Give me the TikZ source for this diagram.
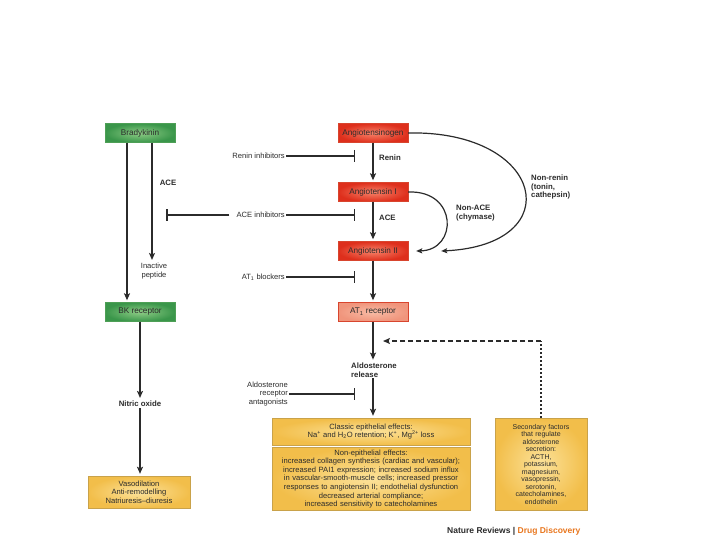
\documentclass[tikz,border=0pt]{standalone}
\usepackage{fontspec}
\setmainfont{Liberation Sans}
\usetikzlibrary{arrows.meta,positioning,calc}
\definecolor{gdark}{HTML}{3A964A}
\definecolor{glight}{HTML}{8ECC86}
\definecolor{gedge}{HTML}{4E9F56}
\definecolor{rdark}{HTML}{DE2F1C}
\definecolor{rlight}{HTML}{F7836A}
\definecolor{redge}{HTML}{D8452E}
\definecolor{salmon}{HTML}{F0957C}
\definecolor{salmonlt}{HTML}{F8BCA6}
\definecolor{ydark}{HTML}{F2BE4A}
\definecolor{ylight}{HTML}{FCE29A}
\definecolor{yedge}{HTML}{C9A24A}
\definecolor{ink}{HTML}{2B2B2B}
\definecolor{nrorange}{HTML}{E8761E}

\begin{document}
\begin{tikzpicture}[x=1pt,y=-1pt,
  every node/.style={font=\fontsize{7.6}{8.6}\selectfont,text=ink},
  gbox/.style={draw=gedge,inner color=glight,outer color=gdark,minimum width=70pt,minimum height=19pt,inner sep=1pt,font=\fontsize{8.2}{9}\selectfont},
  rbox/.style={gbox,draw=redge,inner color=rlight,outer color=rdark},
  ybox/.style={draw=yedge,inner color=ylight,outer color=ydark,align=center,inner sep=2pt},
  lbl/.style={align=center,inner sep=1pt},
  blbl/.style={lbl,font=\fontsize{7.8}{8.6}\selectfont\bfseries},
  arr/.style={-{Stealth[length=7pt,width=6pt,inset=1.5pt]},line width=1.5pt,color=ink,shorten >=2pt},
  inh/.style={-{Bar[width=12pt,line width=1.5pt]},line width=1.5pt,color=ink},
  curv/.style={-{Stealth[length=6pt,width=5pt,inset=1.2pt]},line width=1.2pt,color=ink}]
  \useasboundingbox (0,0) rectangle (720,540);
  % boxes
  \node[gbox] (brad) at (140,133) {Bradykinin};
  \node[gbox] (bkr) at (140,312) {BK receptor};
  \node[rbox] (agn) at (373,133) {Angiotensinogen};
  \node[rbox] (ang1) at (373,192) {Angiotensin I};
  \node[rbox] (ang2) at (373,251) {Angiotensin II};
  \node[rbox,inner color=salmonlt,outer color=salmon] (at1) at (373,312) {AT\textsubscript{1} receptor};
  \node[ybox,minimum width=198pt,minimum height=27pt] (cls) at (371,431.5) {Classic epithelial effects:\\Na\textsuperscript{+} and H\textsubscript{2}O retention; K\textsuperscript{+}, Mg\textsuperscript{2+} loss};
  \node[ybox,text width=194pt,minimum height=63pt,below=2pt of cls,font=\fontsize{7.6}{8.6}\selectfont] (nep) {Non-epithelial effects:\\increased collagen synthesis (cardiac and vascular);\\increased PAI1 expression; increased sodium influx\\in vascular-smooth-muscle cells; increased pressor\\responses to angiotensin II; endothelial dysfunction\\decreased arterial compliance;\\increased sensitivity to catecholamines};
  \node[ybox,text width=88pt,minimum height=92pt,font=\fontsize{7}{7.5}\selectfont] (sec) at (541,464) {Secondary factors\\that regulate\\aldosterone\\secretion:\\ACTH,\\potassium,\\magnesium,\\vasopressin,\\serotonin,\\catecholamines,\\endothelin};
  \node[ybox,text width=98pt,minimum height=32pt] (vaso) at (139,492) {Vasodilation\\Anti-remodelling\\Natriuresis--diuresis};
  % labels
  \node[lbl,anchor=east] (rinh) at (286,156) {Renin inhibitors};
  \node[lbl,anchor=east] (ainh) at (286,215) {ACE inhibitors};
  \node[lbl,anchor=east] (atb) at (286,277) {AT\textsubscript{1} blockers};
  \node[lbl,anchor=east,align=right] (arant) at (289,394) {Aldosterone\\receptor\\antagonists};
  \node[blbl,anchor=west] (renin) at (378,158) {Renin};
  \node[blbl,anchor=west] (acer) at (378,218) {ACE};
  \node[blbl] (acel) at (168,183) {ACE};
  \node[lbl] (inact) at (154,271) {Inactive\\peptide};
  \node[blbl] (no) at (140,404) {Nitric oxide};
  \node[blbl,anchor=west,align=left] (ald) at (350,370) {Aldosterone\\release};
  \node[blbl,anchor=west,align=left] (nace) at (455,213) {Non-ACE\\(chymase)};
  \node[blbl,anchor=west,align=left] (nren) at (530,187) {Non-renin\\(tonin,\\cathepsin)};
  \node[font=\fontsize{8.5}{10}\selectfont\bfseries,anchor=east] (nrdd) at (584,531) {Nature Reviews | \textcolor{nrorange}{Drug Discovery}};
  % bar ends
  \coordinate (bk0) at (166,215);
  \coordinate (bk1) at (355,156);
  \coordinate (bk2) at (355,215);
  \coordinate (bk3) at (355,277);
  \coordinate (bk4) at (355,394);
  \coordinate (dsh) at (541,341);
  \coordinate (dtip) at (383,341);
  % bradykinin side
  \draw[arr] ([xshift=-13pt]brad.south) -- ([xshift=-13pt]bkr.north);
  \draw[arr] ([xshift=12pt]brad.south) -- ([xshift=12pt]brad.south |- inact.north);
  \draw[inh] ([xshift=-6pt]ainh.west) -- (bk0);
  \draw[arr] (bkr) -- (no);
  \draw[arr] (no) -- (vaso.north -| no);
  % angiotensin side
  \draw[arr] (agn) -- (ang1);
  \draw[arr] (ang1) -- (ang2);
  \draw[arr] (ang2) -- (at1);
  \draw[arr] (at1) -- (ald.north -| at1);
  \draw[arr] (ald.south -| at1) -- (cls.north -| at1);
  \draw[inh] (rinh.east) -- (bk1);
  \draw[inh] (ainh.east) -- (bk2);
  \draw[inh] (atb.east) -- (bk3);
  \draw[inh] (arant.east) -- (bk4);
  \draw[curv] (ang1.east) .. controls (458,190) and (458,250) .. ([xshift=8pt]ang2.east);
  \draw[curv] (agn.east) .. controls (545,130) and (570,245) .. ([xshift=33pt]ang2.east);
  \draw[line width=2pt,color=ink,dash pattern=on 2pt off 2pt] (sec.north) -- (dsh);
  \draw[line width=1.5pt,color=ink,dash pattern=on 5pt off 3pt,-{Stealth[length=7pt,width=6pt,inset=1.5pt]}] (dsh) -- (dtip);
\end{tikzpicture}
\end{document}
